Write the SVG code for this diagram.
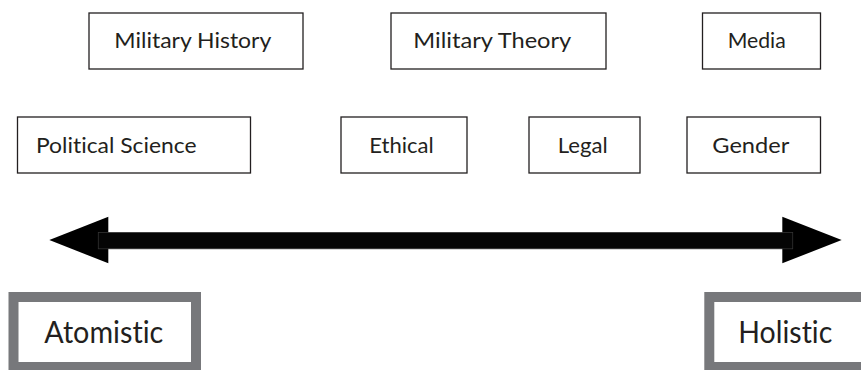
<svg xmlns="http://www.w3.org/2000/svg" width="861" height="370" viewBox="0 0 861 370">
<style>
.box{fill:#fff;stroke:#231f20;stroke-width:1.3}
.t{font-family:Lato,"Open Sans","Liberation Sans",sans-serif;font-size:21px;fill:#231f20;font-variant-ligatures:none}
.end{fill:#fff;stroke:#77787b;stroke-width:10}
.big{font-family:Lato,"Open Sans","Liberation Sans",sans-serif;font-size:30px;fill:#231f20;font-variant-ligatures:none}
</style>
<rect width="861" height="370" fill="#fff"/>
<g id="military-history"><rect class="box" x="89" y="13" width="214" height="56"/><text class="t" x="114.3" y="48" textLength="157" lengthAdjust="spacingAndGlyphs">Military History</text></g>
<g id="military-theory"><rect class="box" x="391" y="13" width="215" height="56"/><text class="t" x="413.3" y="48" textLength="158" lengthAdjust="spacingAndGlyphs">Military Theory</text></g>
<g id="media"><rect class="box" x="702.5" y="13" width="118" height="56"/><text class="t" x="727.7" y="48" textLength="58" lengthAdjust="spacingAndGlyphs">Media</text></g>
<g id="political-science"><rect class="box" x="17.5" y="117" width="233" height="56"/><text class="t" x="36" y="153" textLength="160.5" lengthAdjust="spacingAndGlyphs">Political Science</text></g>
<g id="ethical"><rect class="box" x="341" y="117" width="126" height="56"/><text class="t" x="369.3" y="153" textLength="64.5" lengthAdjust="spacingAndGlyphs">Ethical</text></g>
<g id="legal"><rect class="box" x="529" y="117" width="111" height="56"/><text class="t" x="557.7" y="153" textLength="50" lengthAdjust="spacingAndGlyphs">Legal</text></g>
<g id="gender"><rect class="box" x="687" y="117" width="133.5" height="56"/><text class="t" x="712.3" y="153" textLength="77" lengthAdjust="spacingAndGlyphs">Gender</text></g>
<g id="connectors">
<polygon points="49.3,240 108.3,216.7 108.3,263.3" fill="#000"/>
<polygon points="841.7,240 782.3,216.7 782.3,263.3" fill="#000"/>
<rect x="98.3" y="232.5" width="694.4" height="16.3" fill="#050505" stroke="#333" stroke-width="0.8"/>
</g>
<g id="atomistic"><rect class="end" x="13.5" y="297" width="182.5" height="70"/><text class="big" x="44.3" y="343" textLength="119" lengthAdjust="spacingAndGlyphs">Atomistic</text></g>
<g id="holistic"><rect class="end" x="709.3" y="297" width="170" height="70" stroke="#6b6b6f"/><text class="big" x="738.3" y="343" textLength="94" lengthAdjust="spacingAndGlyphs">Holistic</text></g>
</svg>
